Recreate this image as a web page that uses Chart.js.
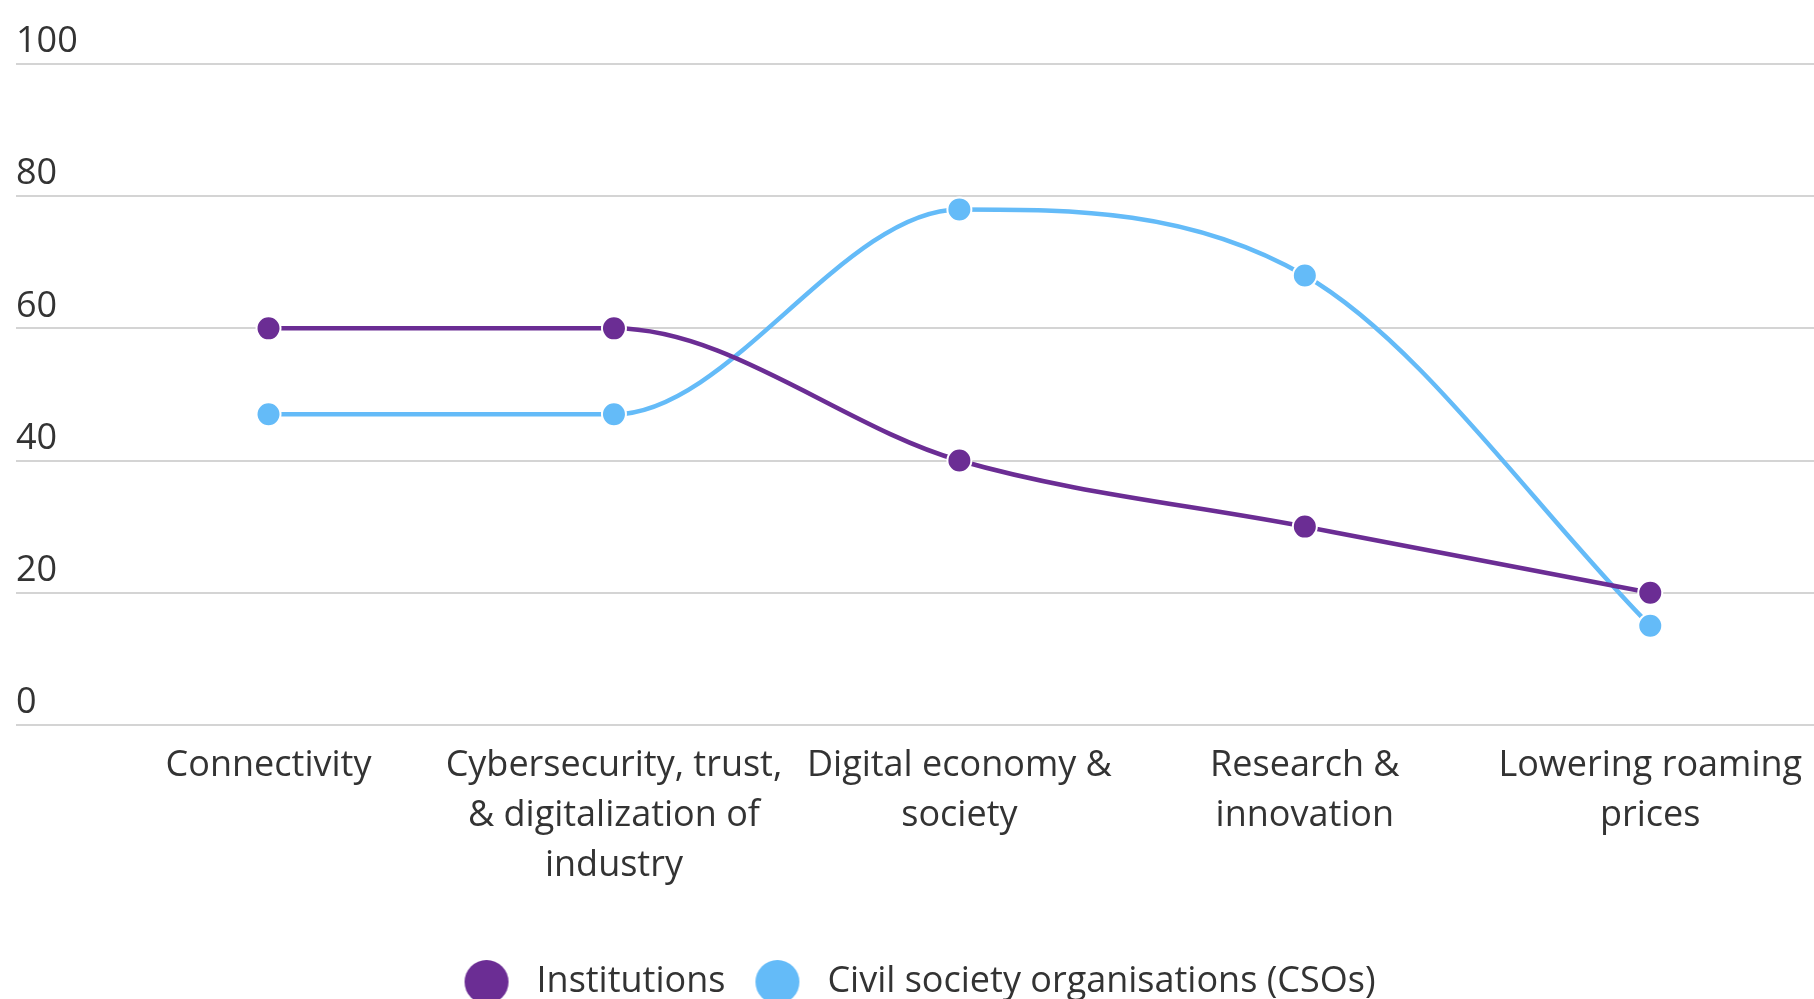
<!DOCTYPE html>
<html>
<head>
<meta charset="utf-8">
<script src="https://cdn.jsdelivr.net/npm/chart.js@4"></script>
<style>
  html, body { margin: 0; padding: 0; background: #ffffff; }
  #wrap { position: relative; width: 1814px; height: 999px; }
</style>
</head>
<body>
<div id="wrap"><canvas id="c"></canvas></div>
<script>
const categories = [
  ["Connectivity"],
  ["Cybersecurity, trust,", "& digitalization of", "industry"],
  ["Digital economy &", "society"],
  ["Research &", "innovation"],
  ["Lowering roaming", "prices"]
];
const seriesNames = ["Institutions", "Civil society organisations (CSOs)"];
const institutions = [60, 60, 40, 30, 20];
const csos = [47, 47, 78, 68, 15];
const yTicks = [0, 20, 40, 60, 80, 100];

const purple = "#6b2d94";
const blue = "#64bbf8";
const FONT = "'Open Sans', 'Noto Sans', sans-serif";

function toXY(arr) { return arr.map((v, i) => ({ x: i, y: v })); }

function legendDot(color) {
  const cv = document.createElement('canvas');
  cv.width = 46; cv.height = 46;
  const g = cv.getContext('2d');
  g.fillStyle = color;
  g.beginPath(); g.arc(23, 23, 22, 0, Math.PI * 2); g.fill();
  return cv;
}

Chart.defaults.font.family = FONT;
Chart.defaults.color = '#333333';

function ds(label, values, color) {
  return {
    label: label,
    data: toXY(values),
    borderColor: color,
    backgroundColor: color,
    borderWidth: 4.5,
    pointRadius: 12,
    pointHoverRadius: 12,
    pointBorderColor: '#ffffff',
    pointBorderWidth: 2,
    pointBackgroundColor: color,
    pointStyle: 'circle',
    cubicInterpolationMode: 'monotone',
    fill: false
  };
}

new Chart(document.getElementById('c'), {
  type: 'line',
  data: {
    datasets: [
      ds(seriesNames[0], institutions, purple),
      ds(seriesNames[1], csos, blue)
    ]
  },
  options: {
    responsive: true,
    maintainAspectRatio: false,
    animation: false,
    layout: { autoPadding: false, padding: { left: 16, right: 0, top: 64, bottom: -11 } },
    scales: {
      x: {
        type: 'linear',
        min: -0.731,
        max: 4.474,
        grid: { display: false, drawTicks: false },
        border: { display: false },
        afterBuildTicks: (scale) => { scale.ticks = categories.map((_, i) => ({ value: i })); },
        afterFit: (scale) => { scale.paddingLeft = 0; scale.paddingRight = 0; scale.height += 37; },
        ticks: {
          autoSkip: false,
          maxRotation: 0,
          minRotation: 0,
          padding: 16,
          font: { size: 36, lineHeight: 1.39 },
          color: '#333333',
          callback: (v) => categories[v]
        }
      },
      y: {
        min: 0,
        max: 100,
        afterBuildTicks: (scale) => { scale.ticks = yTicks.map(v => ({ value: v })); },
        grid: { color: '#d4d4d4', lineWidth: 2, drawTicks: false },
        border: { display: false },
        ticks: {
          mirror: true,
          padding: 0,
          labelOffset: -22,
          font: { size: 36 },
          color: '#333333'
        }
      }
    },
    plugins: {
      tooltip: { enabled: false },
      legend: {
        position: 'bottom',
        labels: {
          usePointStyle: true,
          pointStyleWidth: 64,
          boxHeight: 36,
          padding: 20,
          font: { size: 36 },
          color: '#333333',
          generateLabels: (chart) => chart.data.datasets.map((d, i) => ({
            text: d.label,
            fillStyle: d.borderColor,
            strokeStyle: d.borderColor,
            lineWidth: 0,
            pointStyle: legendDot(d.borderColor),
            hidden: false,
            datasetIndex: i,
            fontColor: '#333333'
          }))
        }
      }
    }
  }
});
</script>
</body>
</html>
